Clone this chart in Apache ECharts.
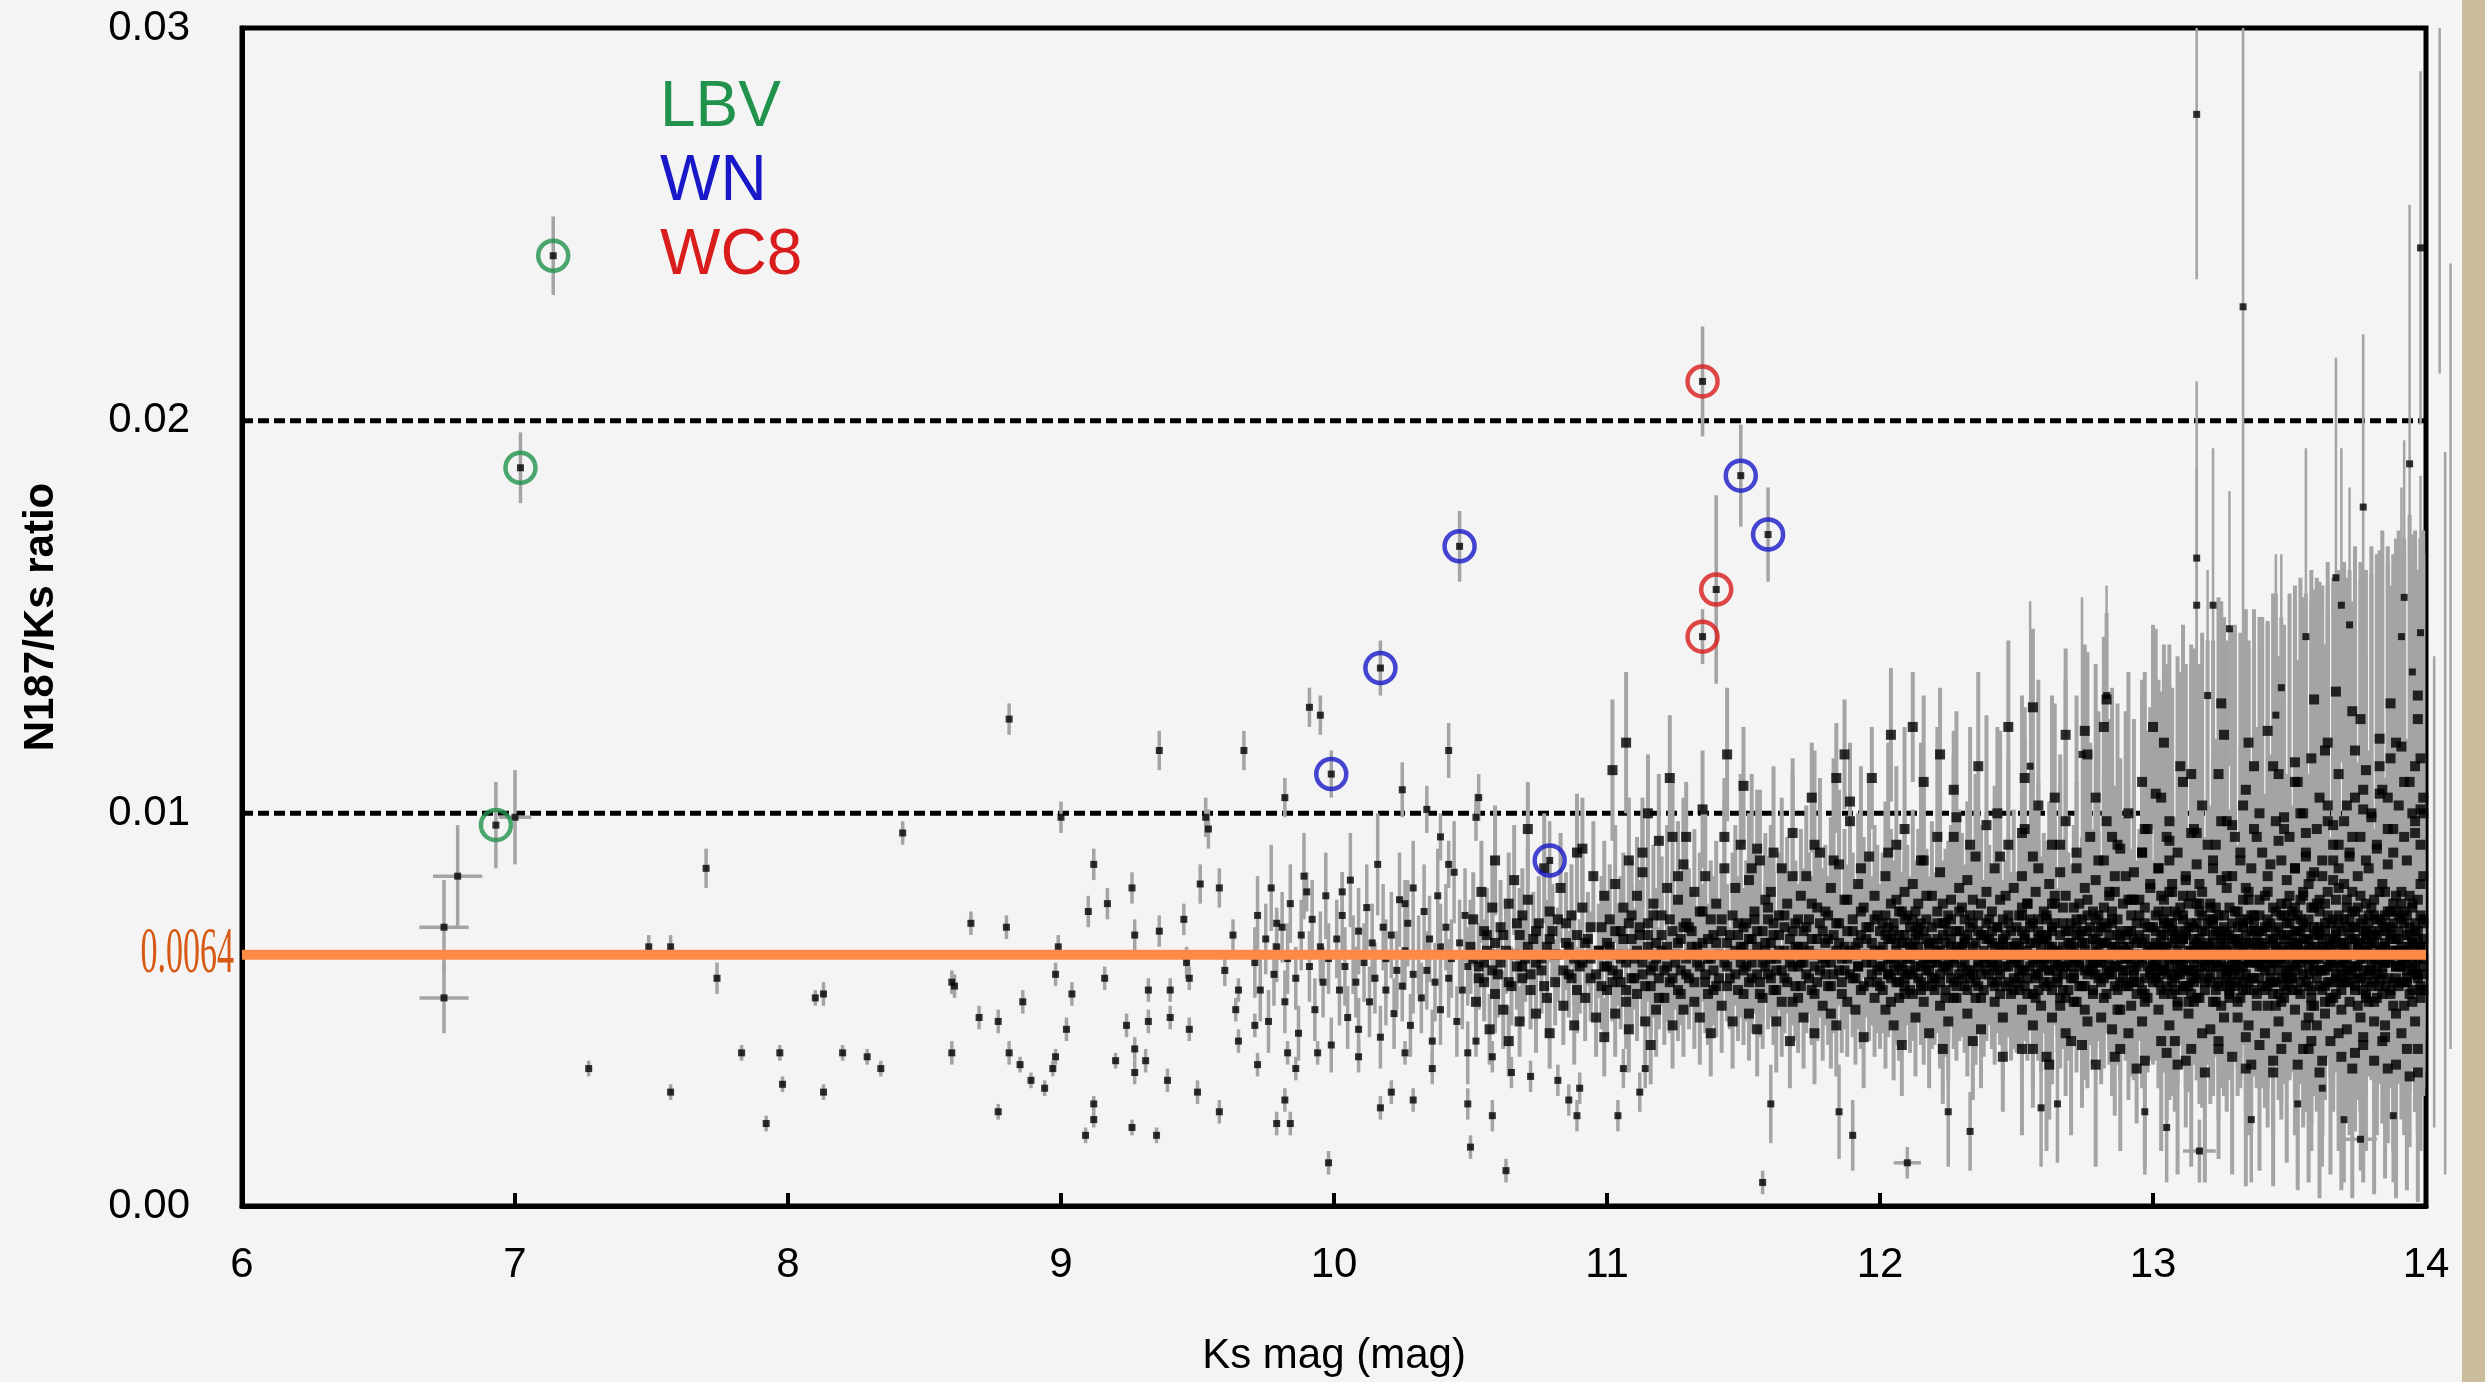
<!DOCTYPE html>
<html><head><meta charset="utf-8">
<script src="https://cdn.jsdelivr.net/npm/echarts@6/dist/echarts.min.js"></script>
<style>html,body{margin:0;padding:0;background:#f4f4f4;}#c{width:2485px;height:1382px;}</style>
</head><body><div id="c"></div>
<script>
// Units used in the arrays below: Ks magnitude x100, ratio and its error x1e4 (x-error x100)
const MAG = 0.01, RAT = 0.0001;
const xTickValues = [6, 7, 8, 9, 10, 11, 12, 13, 14];
const yTickValues = [0.00, 0.01, 0.02, 0.03];
const xName = 'Ks mag (mag)';
const yName = 'N187/Ks ratio';
const meanRatio = 0.0064;
const thresholds = [0.01, 0.02];
const legendNames = ['LBV', 'WN', 'WC8'];

// classified stars [mag, ratio, err]
const lbvStars = [714,242,10, 702,188,9, 693,97,11];
const wnStars  = [999,110,6, 1017,137,7, 1046,168,9, 1079,88,10, 1149,186,13, 1159,171,12];
const wc8Stars = [1135,210,14, 1140,157,24, 1135,145,7];

// bright stars with magnitude error bars [mag, ratio, err, magErr]
const crossStars = [679,84,13,9, 674,71,12,9, 674,53,9,9, 700,99,12,6, 1210,11,4,5, 1317,14,8,6, 1376,17,8,6];

// isolated stars (bright end)
const sparseUpper = [749,66,3, 757,66,3, 770,86,5, 842,95,3, 881,124,4, 867,72,3, 880,71,3, 900,99,4, 912,87,4, 910,75,4,
 917,77,4, 926,81,4, 936,116,5, 951,82,5, 958,81,5, 953,99,5, 954,96,5, 967,116,5, 982,104,5, 990,80,5, 991,127,5, 995,125,5,
 1003,80,5, 1025,106,7, 1026,77,6, 1034,101,6, 1039,94,6, 1042,87,6, 1042,116,7, 1053,104,6, 1052,99,6, 927,69,4, 936,70,4,
 945,73,4, 963,69,4, 979,72,4, 946,62,4];
const sparseLower = [727,35,2, 757,29,2, 774,58,4, 783,39,2, 792,21,2, 797,39,2, 798,31,2, 810,53,2, 813,54,3, 813,29,2, 820,39,2,
 829,38,2, 834,35,2, 860,57,3, 861,56,3, 860,39,3, 870,48,3, 877,47,3, 886,52,3, 881,39,3, 885,36,2, 889,32,2, 894,30,2, 877,24,2,
 897,35,2, 898,38,2, 898,59,3, 899,66,3, 904,54,3, 902,45,3, 916,58,3, 912,26,2, 912,22,2, 909,18,2, 920,37,2, 924,46,3, 927,40,3,
 927,34,3, 926,20,2, 931,37,3, 932,47,3, 932,55,3, 935,18,2, 939,32,3, 940,48,3, 940,55,3, 947,58,3, 947,45,3, 950,29,3, 958,24,3,
 960,60,4, 965,42,3, 965,55,3, 964,50,3, 971,46,3, 972,36,3, 982,27,3, 979,21,3, 984,21,3, 986,35,3, 983,39,3, 994,39,3, 998,11,3,
 1009,38,4, 1017,25,3, 1021,29,3, 1029,27,3, 1026,39,3, 1036,35,4, 1049,26,4, 1050,15,3, 1058,23,4, 1063,9,3, 1052,42,4, 1058,38,4,
 1065,34,4, 1072,33,4, 1082,32,4, 1089,23,4, 1086,27,4, 1090,30,4, 1104,23,4, 1112,29,5, 1106,35,5, 1114,35,5, 1157,6,3,
 1160,26,10, 1185,24,12, 1190,18,9, 1225,24,14, 1233,19,10, 1259,25,15, 1265,26,15, 1297,24,16, 1305,20,14, 1336,22,16,
 1353,26,18, 1362,30,20, 1370,22,16, 1388,23,17];

// upper fringe of the faint population
const fringe = [1071,96,12, 1091,91,13, 1102,111,18, 1107,118,18, 1113,90,14, 1115,100,15, 1123,109,16, 1124,94,14, 1126,84,14,
 1129,94,14, 1135,101,15, 1143,94,15, 1144,115,17, 1150,107,15, 1155,91,15, 1175,104,14, 1184,109,14, 1187,115,14, 1189,103,14,
 1197,109,13, 1204,120,17, 1212,122,14, 1222,115,17, 1227,106,15, 1247,122,22, 1253,109,18, 1256,127,20, 1268,120,22, 1275,121,22,
 1282,122,23, 1283,129,22, 1300,122,26, 1304,118,25, 1310,112,24, 1325,128,26, 1335,118,26, 1342,121,28, 1352,113,26, 1359,129,28,
 1363,116,27, 1367,131,30, 1373,126,28, 1378,111,28, 1383,119,30, 1387,128,30, 1391,117,29, 1397,130,32, 1397,124,30];
// faint stars with large ratio errors (upper grey envelope)
const upperBars = [1153,86,24, 1161,90,22, 1168,84,26, 1176,92,24, 1183,88,26, 1193,86,26,
 1203,90,28, 1209,96,26, 1215,88,30, 1221,94,28, 1228,99,27, 1233,92,30, 1239,97,28, 1244,89,32,
 1252,95,35, 1258,102,32, 1263,92,38, 1268,98,36, 1272,90,40, 1279,104,34, 1285,94,38, 1291,100,36, 1297,96,40,
 1301,105,42, 1306,98,45, 1311,108,40, 1314,95,48, 1318,102,44, 1324,110,45, 1329,97,50, 1334,106,46, 1339,100,50, 1344,112,44, 1348,96,52,
 1352,108,50, 1355,100,55, 1358,114,48, 1361,104,55, 1364,98,60, 1368,110,52, 1371,102,58, 1374,116,50, 1377,106,56, 1380,99,62,
 1383,112,55, 1386,104,60, 1389,118,52, 1392,108,58, 1395,100,64, 1398,114,56, 1399,104,62];
const upperBars2 = [1280,88,38, 1284,80,44, 1287,92,36, 1290,84,42, 1293,78,46, 1296,90,40, 1299,82,45,
 1302,86,48, 1305,94,44, 1307,80,52, 1309,90,50, 1312,84,54, 1315,96,46, 1317,82,56, 1320,92,52, 1322,86,58, 1325,98,50,
 1327,84,60, 1330,94,54, 1332,88,58, 1335,80,62, 1337,96,56, 1340,90,60, 1342,84,64, 1345,98,58, 1347,88,62,
 1350,94,62, 1352,86,68, 1354,100,60, 1356,90,66, 1358,84,70, 1360,96,64, 1362,88,70, 1364,102,62, 1366,92,68, 1368,86,72,
 1370,98,66, 1372,90,72, 1374,104,64, 1376,94,70, 1378,88,74, 1380,100,68, 1382,92,74, 1384,106,66, 1386,96,72, 1388,90,76,
 1390,102,70, 1392,94,76, 1394,108,68, 1396,98,74, 1398,92,78, 1399,100,72];
// faint stars below the band (lower grey envelope)
const lowerBars = [1252,40,22, 1261,38,24, 1270,42,24, 1279,36,26, 1288,40,26, 1297,37,27,
 1303,42,28, 1309,36,28, 1314,40,30, 1319,34,28, 1324,42,30, 1329,38,30, 1334,35,30, 1339,41,32, 1344,37,32, 1349,43,32,
 1353,36,32, 1357,40,34, 1361,34,32, 1365,42,34, 1369,38,34, 1373,35,33, 1377,41,35, 1381,37,34, 1385,43,36, 1389,36,34,
 1393,40,36, 1397,34,33];

// faint stars with very long error bars
const spikes = [1316,278,42, 1316,165,45, 1316,153,35, 1333,229,100, 1322,153,40, 1328,147,35, 1356,145,48, 1367,160,56,
 1369,153,40, 1372,148,35, 1377,178,44, 1392,155,40, 1391,145,38, 1394,189,66, 1398,244,45, 1398,146,40, 1395,136,35,
 1347,132,34, 1320,130,32, 1283,130,28, 1255,112,42, 1274,115,40, 1345,125,41];
// error bars of stars just beyond Ks = 14
const offEdge = [1405,256,44, 1409,140,100, 1407,100,92, 1403,80,60];

// dense faint population, per magnitude range [mag, ratio, err]
const cloudA = [971,62,9, 972,74,10, 973,55,8, 975,68,9, 976,47,8, 977,81,11, 978,59,8, 979,66,9,
 981,71,9, 982,52,8, 983,63,9, 984,77,10, 986,58,8, 987,44,7, 988,69,9, 989,84,11,
 991,61,9, 992,73,10, 993,50,8, 995,66,9, 996,57,9, 997,79,11, 998,63,9, 999,41,7];
const cloudB = [1001,68,10, 1002,55,9, 1003,74,11, 1004,61,10, 1005,48,8, 1006,83,12, 1007,64,10, 1008,57,9, 1009,70,11, 1009,45,8,
 1011,62,10, 1012,76,11, 1013,52,9, 1014,67,10, 1015,58,9, 1016,87,13, 1017,43,8, 1018,71,11, 1019,63,10, 1019,55,9,
 1021,69,11, 1022,49,9, 1023,60,10, 1024,78,12, 1025,56,9, 1026,65,10, 1027,72,11, 1028,46,8, 1029,81,12, 1029,59,10,
 1031,64,10, 1032,53,9, 1033,75,12, 1034,60,10, 1035,68,11, 1036,42,8, 1037,57,10, 1038,79,12, 1039,66,11, 1039,50,9,
 1041,71,11, 1042,58,10, 1043,63,10, 1044,85,13, 1045,47,9, 1046,67,11, 1047,55,10, 1048,74,12, 1049,61,10, 1049,39,8];
const cloudC = [1050,66,12, 1051,73,12, 1052,52,10, 1053,61,11, 1054,80,13, 1055,57,10, 1056,69,12, 1057,45,9, 1058,64,11, 1058,76,13, 1059,54,10, 1059,88,14, 1055,62,11,
 1060,59,11, 1061,71,12, 1062,50,10, 1063,65,11, 1064,77,13, 1065,56,10, 1066,83,14, 1067,61,11, 1068,47,9, 1068,69,12, 1069,74,12, 1069,58,11, 1064,42,9,
 1070,63,11, 1071,78,13, 1072,55,10, 1073,68,12, 1074,49,10, 1075,72,12, 1076,60,11, 1077,86,14, 1078,53,10, 1078,66,12, 1079,44,9, 1079,75,13, 1074,62,11,
 1080,70,12, 1081,57,11, 1082,64,12, 1083,81,14, 1084,51,10, 1085,67,12, 1086,59,11, 1087,74,13, 1088,46,10, 1088,63,12, 1089,90,15, 1089,55,11, 1085,72,13,
 1090,61,12, 1091,76,13, 1092,53,11, 1093,68,12, 1094,58,11, 1095,84,14, 1096,48,10, 1097,65,12, 1098,71,13, 1098,56,11, 1099,79,14, 1099,43,10, 1094,63,12];
const cloudD = [1100,67,13, 1100,55,12, 1101,73,14, 1102,60,13, 1103,82,15, 1103,49,11, 1104,64,13, 1105,70,14, 1105,57,12, 1106,76,14, 1107,52,12, 1107,62,13, 1108,88,16, 1108,45,11, 1109,68,14, 1109,58,12, 1109,74,14,
 1110,63,13, 1111,79,15, 1111,54,12, 1112,69,14, 1113,59,13, 1113,85,16, 1114,47,11, 1115,66,14, 1115,72,14, 1116,56,12, 1117,61,13, 1117,77,15, 1118,50,12, 1118,67,14, 1119,93,17, 1119,58,13, 1116,41,10,
 1120,65,14, 1120,74,15, 1121,53,12, 1122,61,14, 1122,81,16, 1123,57,13, 1124,70,15, 1124,46,11, 1125,64,14, 1126,78,15, 1126,55,13, 1127,68,15, 1127,60,14, 1128,87,17, 1128,50,12, 1129,72,15, 1129,63,14,
 1130,58,13, 1130,71,15, 1131,66,14, 1132,52,12, 1132,80,16, 1133,62,14, 1134,75,15, 1134,48,12, 1135,67,15, 1136,57,13, 1136,84,17, 1137,63,14, 1137,54,13, 1138,73,15, 1138,44,11, 1139,69,15, 1139,60,14,
 1140,77,16, 1140,56,13, 1141,64,14, 1142,70,15, 1142,51,12, 1143,86,17, 1144,61,14, 1144,67,15, 1145,58,13, 1146,74,16, 1146,47,12, 1147,65,14, 1147,81,16, 1148,55,13, 1148,69,15, 1149,62,14, 1149,92,18];
const cloudE = [1150,66,15, 1150,54,13, 1151,72,16, 1151,61,14, 1152,83,17, 1152,49,12, 1153,68,15, 1153,58,14, 1154,75,16, 1154,64,15, 1155,45,12, 1155,70,16, 1156,57,14, 1156,88,18, 1157,62,15, 1157,53,13, 1158,78,17, 1158,67,15, 1159,59,14, 1159,73,16,
 1160,63,15, 1160,80,17, 1161,55,14, 1161,69,16, 1162,60,15, 1162,47,13, 1163,74,16, 1163,65,15, 1164,52,14, 1164,86,18, 1165,71,16, 1165,58,14, 1166,64,15, 1166,77,17, 1167,42,12, 1167,68,16, 1168,61,15, 1168,95,19, 1169,56,14, 1169,72,16,
 1170,66,16, 1170,53,14, 1171,79,17, 1171,62,15, 1172,70,16, 1172,48,13, 1173,59,15, 1173,84,18, 1174,65,16, 1174,73,17, 1175,55,14, 1175,68,16, 1176,61,15, 1176,44,13, 1177,76,17, 1177,57,15, 1178,90,19, 1178,64,16, 1179,51,14, 1179,70,16,
 1180,62,16, 1180,75,17, 1181,56,15, 1181,68,16, 1182,49,14, 1182,81,18, 1183,64,16, 1183,59,15, 1184,72,17, 1184,46,13, 1185,67,16, 1185,87,19, 1186,54,15, 1186,63,16, 1187,78,18, 1187,60,15, 1188,70,17, 1188,52,14, 1189,65,16, 1189,98,20,
 1190,58,15, 1190,73,17, 1191,66,16, 1191,50,14, 1192,82,18, 1192,61,16, 1193,69,17, 1193,55,15, 1194,76,18, 1194,43,13, 1195,64,16, 1195,71,17, 1196,57,15, 1196,89,19, 1197,62,16, 1197,67,17, 1198,53,15, 1198,79,18, 1199,60,16, 1199,74,18];
const cloudF = [1200,65,17, 1200,56,16, 1201,72,18, 1201,61,17, 1202,84,19, 1202,50,15, 1203,68,18, 1203,59,16, 1204,77,19, 1204,63,17, 1205,46,14, 1205,70,18, 1206,57,16, 1206,92,20, 1207,64,17, 1207,53,16, 1207,75,18, 1208,60,17, 1208,67,18, 1208,41,13, 1209,80,19, 1209,58,16, 1209,69,18, 1205,62,17,
 1210,63,17, 1210,74,18, 1211,55,16, 1211,66,18, 1212,82,19, 1212,59,17, 1213,70,18, 1213,48,15, 1214,64,17, 1214,77,19, 1215,57,16, 1215,61,17, 1216,88,20, 1216,52,16, 1217,68,18, 1217,73,18, 1217,60,17, 1218,44,14, 1218,66,18, 1219,79,19, 1219,56,16, 1219,62,17, 1214,71,18, 1216,108,22,
 1220,67,18, 1220,58,17, 1221,75,19, 1221,62,18, 1222,51,16, 1222,85,20, 1223,64,18, 1223,69,19, 1224,55,17, 1224,72,19, 1225,60,18, 1225,47,15, 1226,78,19, 1226,66,18, 1227,57,17, 1227,94,21, 1227,63,18, 1228,70,19, 1228,53,16, 1229,81,20, 1229,59,17, 1229,65,18, 1225,74,19, 1223,40,14,
 1230,61,18, 1230,76,19, 1231,56,17, 1231,68,19, 1232,49,16, 1232,83,20, 1233,64,18, 1233,58,17, 1234,72,19, 1234,66,18, 1235,53,17, 1235,89,21, 1236,62,18, 1236,70,19, 1237,45,15, 1237,77,20, 1237,59,17, 1238,65,18, 1238,55,17, 1239,80,20, 1239,68,19, 1239,60,18, 1234,42,15, 1236,112,24,
 1240,64,18, 1240,73,19, 1241,57,17, 1241,67,19, 1242,86,21, 1242,52,16, 1243,62,18, 1243,71,19, 1244,59,18, 1244,78,20, 1245,48,16, 1245,65,18, 1246,69,19, 1246,56,17, 1247,92,22, 1247,61,18, 1247,74,20, 1248,54,17, 1248,66,19, 1249,81,20, 1249,58,18, 1249,63,18, 1245,38,14, 1243,100,22];
const cloudG = [1250,66,19, 1250,57,18, 1251,74,20, 1251,62,19, 1252,50,17, 1252,84,21, 1253,68,19, 1253,60,18, 1254,77,20, 1254,54,17, 1255,64,19, 1255,71,20, 1256,46,16, 1256,89,22, 1257,59,18, 1257,67,19, 1257,80,21, 1258,55,18, 1258,63,19, 1258,73,20, 1259,51,17, 1259,69,20, 1259,61,19, 1253,96,23, 1256,40,15, 1251,58,18, 1258,86,22,
 1260,63,19, 1260,75,20, 1261,56,18, 1261,68,20, 1262,82,21, 1262,60,19, 1263,70,20, 1263,48,17, 1264,65,19, 1264,77,21, 1265,57,18, 1265,62,19, 1266,92,23, 1266,53,18, 1267,72,20, 1267,66,20, 1267,59,19, 1268,44,16, 1268,79,21, 1269,64,19, 1269,70,20, 1269,55,18, 1264,104,24, 1262,36,14, 1266,85,22, 1268,61,19, 1261,73,20,
 1270,67,20, 1270,58,19, 1271,76,21, 1271,63,20, 1272,52,18, 1272,86,22, 1273,69,20, 1273,61,19, 1274,73,21, 1274,56,19, 1275,65,20, 1275,81,22, 1276,47,17, 1276,70,21, 1277,60,19, 1277,94,24, 1277,64,20, 1278,54,18, 1278,75,21, 1279,68,20, 1279,59,19, 1279,83,22, 1274,41,16, 1276,115,26, 1278,62,20, 1272,71,21, 1275,50,18,
 1280,62,20, 1280,74,21, 1281,57,19, 1281,67,20, 1282,88,23, 1282,53,18, 1283,64,20, 1283,71,21, 1284,59,19, 1284,79,22, 1285,45,17, 1285,66,20, 1286,61,20, 1286,84,23, 1287,55,19, 1287,69,21, 1287,73,21, 1288,50,18, 1288,63,20, 1289,77,22, 1289,58,19, 1289,66,20, 1283,98,24, 1286,38,15, 1288,91,23, 1281,48,17, 1285,72,21,
 1290,65,20, 1290,56,19, 1291,78,22, 1291,63,20, 1292,51,18, 1292,70,21, 1293,60,20, 1293,85,23, 1294,67,21, 1294,54,19, 1295,74,22, 1295,62,20, 1296,47,17, 1296,90,24, 1297,58,19, 1297,68,21, 1297,76,22, 1298,53,19, 1298,64,20, 1299,81,23, 1299,60,20, 1299,71,21, 1294,35,14, 1296,108,26, 1291,44,17, 1298,96,25, 1293,57,19];
const cloudH = [1300,66,22, 1300,57,21, 1301,74,23, 1301,62,22, 1302,50,20, 1302,86,25, 1303,69,23, 1303,60,22, 1304,78,24, 1304,54,20, 1305,64,22, 1305,71,23, 1306,46,19, 1306,93,26, 1307,59,21, 1307,67,23, 1307,82,25, 1308,55,21, 1308,63,22, 1308,75,24, 1309,51,20, 1309,70,23, 1309,61,22, 1303,104,27, 1305,39,17, 1301,58,21, 1306,88,25, 1308,42,18, 1302,66,23, 1304,72,24,
 1310,63,22, 1310,76,24, 1311,56,21, 1311,68,23, 1312,83,25, 1312,60,22, 1313,71,24, 1313,49,20, 1314,65,23, 1314,79,25, 1315,57,21, 1315,62,22, 1316,95,27, 1316,53,21, 1316,72,24, 1317,66,23, 1317,59,22, 1318,44,19, 1318,80,25, 1318,64,23, 1319,70,24, 1319,55,21, 1314,110,28, 1312,37,17, 1316,87,26, 1319,61,22, 1311,74,24, 1313,52,21, 1317,77,25, 1315,68,23,
 1320,67,23, 1320,58,22, 1321,77,25, 1321,63,23, 1322,52,21, 1322,88,26, 1323,70,24, 1323,61,23, 1324,74,25, 1324,56,22, 1325,66,24, 1325,83,26, 1326,48,20, 1326,71,24, 1327,60,23, 1327,98,28, 1327,65,24, 1328,54,22, 1328,76,25, 1328,69,24, 1329,59,23, 1329,84,26, 1324,40,18, 1326,120,30, 1329,63,23, 1322,72,25, 1325,51,21, 1321,45,19, 1323,92,27, 1328,57,22,
 1330,62,23, 1330,75,25, 1331,57,22, 1331,68,24, 1332,90,27, 1332,53,21, 1333,65,24, 1333,72,25, 1334,59,23, 1334,81,26, 1335,46,20, 1335,67,24, 1336,62,23, 1336,86,27, 1337,55,22, 1337,70,25, 1337,74,25, 1338,51,21, 1338,64,24, 1339,78,26, 1339,58,23, 1339,67,24, 1333,102,29, 1336,36,17, 1338,94,28, 1331,48,20, 1335,73,25, 1332,61,23, 1334,43,19, 1337,112,30,
 1340,65,24, 1340,56,22, 1341,79,26, 1341,63,24, 1342,51,21, 1342,71,25, 1343,60,23, 1343,87,28, 1344,68,25, 1344,54,22, 1345,75,26, 1345,62,24, 1346,47,20, 1346,93,29, 1347,58,23, 1347,69,25, 1347,77,26, 1348,53,22, 1348,65,24, 1349,83,27, 1349,60,23, 1349,72,25, 1344,34,16, 1346,110,30, 1341,44,19, 1348,99,29, 1343,57,23, 1345,66,24, 1347,40,18, 1349,55,22];
const cloudI = [1350,66,25, 1350,57,24, 1351,75,27, 1351,62,25, 1352,50,23, 1352,86,29, 1353,70,26, 1353,60,25, 1354,78,27, 1354,54,23, 1355,65,26, 1355,72,26, 1356,46,22, 1356,95,30, 1357,59,24, 1357,68,26, 1357,82,28, 1358,55,24, 1358,63,25, 1358,76,27, 1359,51,23, 1359,71,26, 1359,61,25, 1353,108,31, 1355,40,20, 1351,58,24, 1356,89,29, 1358,42,21, 1352,67,26, 1354,73,27, 1357,48,22, 1359,85,28, 1350,79,27, 1356,64,25,
 1360,63,25, 1360,77,27, 1361,56,24, 1361,69,26, 1362,84,29, 1362,60,25, 1363,72,27, 1363,49,22, 1364,66,26, 1364,80,28, 1365,57,24, 1365,62,25, 1366,97,31, 1366,53,23, 1366,73,27, 1367,67,26, 1367,59,25, 1368,44,21, 1368,81,28, 1368,65,26, 1369,70,27, 1369,55,24, 1364,118,33, 1362,37,19, 1366,88,29, 1369,61,25, 1361,75,27, 1363,52,23, 1367,78,28, 1365,68,26, 1360,46,22, 1368,92,30, 1362,64,26, 1369,50,23,
 1370,67,26, 1370,58,25, 1371,78,28, 1371,63,26, 1372,52,24, 1372,89,30, 1373,71,27, 1373,61,26, 1374,75,28, 1374,56,25, 1375,66,27, 1375,84,29, 1376,48,23, 1376,72,28, 1377,60,26, 1377,101,32, 1377,65,27, 1378,54,25, 1378,77,28, 1378,69,27, 1379,59,26, 1379,86,30, 1374,39,20, 1376,124,35, 1379,64,27, 1372,73,28, 1375,51,24, 1371,45,22, 1373,94,31, 1378,57,25, 1370,82,29, 1374,68,27, 1377,43,21, 1379,74,28,
 1380,62,26, 1380,76,28, 1381,57,25, 1381,69,27, 1382,91,31, 1382,53,24, 1383,65,27, 1383,73,28, 1384,59,26, 1384,82,30, 1385,46,23, 1385,67,27, 1386,62,26, 1386,87,30, 1387,55,25, 1387,71,28, 1387,75,28, 1388,51,24, 1388,64,27, 1389,79,29, 1389,58,26, 1389,68,27, 1383,105,33, 1386,35,19, 1388,96,31, 1381,47,23, 1385,74,28, 1382,61,26, 1384,42,21, 1387,114,34, 1380,70,28, 1383,56,25, 1389,49,24, 1385,80,29,
 1390,65,27, 1390,56,25, 1391,80,30, 1391,63,27, 1392,51,24, 1392,72,29, 1393,60,26, 1393,88,31, 1394,69,28, 1394,54,25, 1395,76,29, 1395,62,27, 1396,47,23, 1396,95,32, 1397,58,26, 1397,70,28, 1397,78,29, 1398,53,25, 1398,66,27, 1399,84,30, 1399,61,27, 1399,73,28, 1394,33,18, 1396,112,35, 1391,44,22, 1398,101,33, 1393,57,26, 1395,67,28, 1397,40,21, 1399,55,25, 1390,74,29, 1392,64,27, 1396,59,26, 1398,82,30];

// core stars whose error bars fall inside the grey band [mag, ratio]
const core105to115 = [1051,63, 1053,58, 1055,70, 1056,65, 1058,60, 1059,67, 1061,62, 1062,69, 1064,57, 1066,64, 1067,72, 1069,61,
 1071,66, 1072,59, 1074,70, 1076,63, 1077,56, 1079,68, 1081,64, 1082,73, 1084,60, 1086,66, 1087,58, 1089,69, 1091,62, 1092,67,
 1094,71, 1096,59, 1097,65, 1099,61,
 1100,61, 1101,66, 1102,57, 1103,70, 1104,59, 1105,63, 1106,68, 1107,55, 1108,72, 1109,64, 1110,58, 1111,65, 1112,71, 1113,62,
 1114,56, 1115,69, 1116,60, 1117,74, 1118,63, 1119,53, 1120,69, 1121,60, 1122,66, 1123,73, 1124,58, 1125,62, 1126,67, 1127,54,
 1128,71, 1129,59, 1130,64, 1131,70, 1132,57, 1133,66, 1134,61, 1135,75, 1136,59, 1137,68, 1138,63, 1139,55, 1140,67, 1141,58,
 1142,73, 1143,62, 1144,56, 1145,69, 1146,64, 1147,59, 1148,72, 1149,66];
const core115to125 = [1150,60, 1150,71, 1151,64, 1152,57, 1152,68, 1153,62, 1154,73, 1155,59, 1155,66, 1156,54, 1157,70, 1158,61, 1158,65, 1159,76,
 1160,58, 1160,67, 1161,72, 1162,63, 1162,55, 1163,69, 1164,60, 1165,65, 1165,74, 1166,57, 1167,62, 1168,70, 1168,52, 1169,66,
 1170,61, 1170,73, 1171,56, 1172,66, 1172,62, 1173,71, 1174,58, 1175,64, 1175,77, 1176,54, 1177,68, 1178,60, 1178,72, 1179,63,
 1180,67, 1180,59, 1181,74, 1182,62, 1182,56, 1183,69, 1184,65, 1185,60, 1185,72, 1186,57, 1187,66, 1188,63, 1188,78, 1189,59,
 1190,64, 1190,70, 1191,58, 1192,67, 1192,61, 1193,75, 1194,56, 1195,68, 1195,62, 1196,71, 1197,59, 1198,65, 1198,73, 1199,57,
 1200,61, 1200,70, 1201,55, 1201,66, 1202,74, 1203,59, 1203,63, 1204,68, 1204,52, 1205,72, 1205,60, 1206,65, 1206,78, 1207,57, 1207,69, 1208,62, 1209,73, 1209,56,
 1210,67, 1210,59, 1211,71, 1211,63, 1212,54, 1212,66, 1213,75, 1213,61, 1214,58, 1214,69, 1215,64, 1215,72, 1216,56, 1216,62, 1217,79, 1218,60, 1218,67, 1219,71,
 1220,63, 1220,55, 1221,68, 1221,72, 1222,59, 1222,65, 1223,61, 1223,77, 1224,53, 1224,67, 1225,70, 1225,64, 1226,58, 1226,73, 1227,62, 1228,66, 1228,56, 1229,75,
 1230,66, 1230,58, 1231,73, 1231,62, 1232,69, 1232,55, 1233,60, 1233,71, 1234,64, 1234,78, 1235,57, 1235,67, 1236,61, 1236,74, 1237,53, 1238,69, 1238,63, 1239,72,
 1240,59, 1240,68, 1241,62, 1241,75, 1242,56, 1242,66, 1243,71, 1243,60, 1244,64, 1244,54, 1245,73, 1245,67, 1246,61, 1246,79, 1247,57, 1248,70, 1248,63, 1249,66];
const core125to135 = [1250,62, 1250,71, 1251,66, 1251,55, 1252,74, 1252,60, 1253,64, 1253,69, 1254,58, 1254,77, 1255,61, 1255,67, 1256,72, 1256,54, 1257,63, 1258,70, 1258,59, 1259,66,
 1260,68, 1260,57, 1261,63, 1261,74, 1262,60, 1262,66, 1263,55, 1263,71, 1264,62, 1264,79, 1265,65, 1265,58, 1266,69, 1266,61, 1267,76, 1268,64, 1268,53, 1269,67,
 1270,61, 1270,72, 1271,58, 1271,66, 1272,69, 1272,63, 1273,77, 1273,56, 1274,64, 1274,70, 1275,60, 1275,67, 1276,74, 1276,59, 1277,62, 1278,68, 1278,55, 1279,73,
 1280,65, 1280,58, 1281,71, 1281,62, 1282,67, 1282,76, 1283,60, 1283,54, 1284,69, 1284,63, 1285,73, 1285,59, 1286,66, 1286,80, 1287,61, 1288,70, 1288,57, 1289,64,
 1290,60, 1290,69, 1291,66, 1291,56, 1292,74, 1292,62, 1293,68, 1293,59, 1294,72, 1294,64, 1295,57, 1295,78, 1296,63, 1296,67, 1297,54, 1298,71, 1298,61, 1299,65,
 1300,62, 1300,71, 1301,58, 1301,67, 1302,75, 1302,60, 1303,64, 1303,55, 1304,69, 1304,73, 1305,59, 1305,66, 1306,80, 1306,61, 1307,57, 1307,70, 1308,63, 1308,68, 1309,52, 1309,74, 1302,65, 1304,62, 1306,72, 1308,58,
 1310,67, 1310,59, 1311,73, 1311,62, 1312,56, 1312,69, 1313,65, 1313,77, 1314,60, 1314,54, 1315,71, 1315,66, 1316,63, 1316,58, 1317,75, 1317,68, 1318,61, 1318,70, 1319,57, 1319,64, 1311,79, 1313,60, 1315,52, 1318,66,
 1320,63, 1320,72, 1321,57, 1321,66, 1322,69, 1322,61, 1323,76, 1323,55, 1324,65, 1324,70, 1325,59, 1325,62, 1326,74, 1326,67, 1327,58, 1327,81, 1328,64, 1328,53, 1329,68, 1329,61, 1321,73, 1323,64, 1325,69, 1327,56,
 1330,68, 1330,56, 1331,63, 1331,75, 1332,59, 1332,66, 1333,71, 1333,61, 1334,55, 1334,67, 1335,78, 1335,62, 1336,65, 1336,58, 1337,72, 1337,64, 1338,69, 1338,54, 1339,61, 1339,74, 1331,67, 1333,57, 1336,70, 1338,62,
 1340,61, 1340,70, 1341,66, 1341,55, 1342,73, 1342,63, 1343,58, 1343,68, 1344,76, 1344,62, 1345,57, 1345,65, 1346,71, 1346,60, 1347,66, 1347,52, 1348,74, 1348,62, 1349,69, 1349,58, 1342,80, 1344,67, 1346,63, 1348,56];
const core135to140 = [1350,64, 1350,72, 1351,58, 1351,67, 1352,61, 1352,76, 1353,55, 1353,66, 1354,70, 1354,62, 1355,59, 1355,80, 1356,68, 1356,57, 1357,73, 1357,63, 1358,66, 1358,51, 1359,69, 1359,60, 1351,74, 1353,63, 1355,68, 1357,56,
 1360,66, 1360,58, 1361,71, 1361,63, 1362,55, 1362,68, 1363,77, 1363,60, 1364,64, 1364,57, 1365,72, 1365,66, 1366,61, 1366,83, 1367,54, 1367,69, 1368,62, 1368,74, 1369,59, 1369,67, 1361,65, 1363,70, 1365,52, 1368,57,
 1370,62, 1370,73, 1371,57, 1371,66, 1372,69, 1372,60, 1373,75, 1373,64, 1374,55, 1374,71, 1375,61, 1375,67, 1376,79, 1376,58, 1377,63, 1377,70, 1378,53, 1378,65, 1379,72, 1379,60, 1371,76, 1373,59, 1375,65, 1378,68,
 1380,67, 1380,56, 1381,63, 1381,74, 1382,59, 1382,69, 1383,65, 1383,80, 1384,61, 1384,54, 1385,71, 1385,66, 1386,58, 1386,75, 1387,63, 1387,68, 1388,57, 1388,72, 1389,61, 1389,65, 1381,52, 1383,70, 1385,62, 1388,77,
 1390,61, 1390,70, 1391,66, 1391,57, 1392,75, 1392,63, 1393,58, 1393,69, 1394,64, 1394,79, 1395,55, 1395,67, 1396,72, 1396,61, 1397,65, 1397,59, 1398,74, 1398,56, 1399,68, 1399,63, 1391,73, 1393,62, 1395,77, 1398,66];
const core120to130b = [1201,64, 1203,71, 1204,58, 1206,67, 1207,61, 1208,75, 1209,54, 1202,69, 1211,60, 1212,73, 1214,66, 1215,55, 1216,70, 1217,63, 1219,58, 1213,68,
 1221,65, 1222,57, 1223,72, 1225,62, 1226,68, 1227,53, 1229,70, 1224,61, 1231,67, 1232,60, 1233,74, 1235,64, 1236,56, 1237,69, 1239,62, 1234,59,
 1241,70, 1242,61, 1243,57, 1245,68, 1246,64, 1247,72, 1249,55, 1244,66,
 1250,67, 1251,60, 1252,70, 1253,56, 1254,65, 1255,73, 1256,62, 1257,58, 1258,68, 1259,64, 1252,76, 1257,53,
 1260,61, 1261,69, 1262,57, 1263,66, 1264,72, 1265,60, 1266,64, 1267,55, 1268,70, 1269,62, 1263,77, 1266,51,
 1270,65, 1271,59, 1272,73, 1273,62, 1274,67, 1275,56, 1276,64, 1277,71, 1278,60, 1279,66, 1271,52, 1276,78,
 1280,70, 1281,63, 1282,58, 1283,67, 1284,61, 1285,75, 1286,56, 1287,65, 1288,68, 1289,60, 1282,72, 1287,50,
 1290,63, 1291,70, 1292,57, 1293,64, 1294,61, 1295,69, 1296,55, 1297,72, 1298,66, 1299,59, 1292,78, 1297,52];
const core130to140b = [1300,64, 1301,70, 1302,57, 1303,67, 1304,60, 1305,75, 1306,63, 1307,54, 1308,69, 1309,65, 1301,61, 1303,79, 1305,56, 1307,72, 1309,59, 1304,66,
 1310,61, 1311,68, 1312,63, 1313,56, 1314,72, 1315,60, 1316,67, 1317,53, 1318,74, 1319,62, 1312,70, 1314,58, 1316,77, 1318,64, 1311,55, 1317,66,
 1320,65, 1321,59, 1322,73, 1323,62, 1324,57, 1325,68, 1326,61, 1327,70, 1328,55, 1329,66, 1321,76, 1323,52, 1325,64, 1327,60, 1329,72, 1322,67,
 1330,60, 1331,71, 1332,64, 1333,55, 1334,69, 1335,63, 1336,74, 1337,58, 1338,66, 1339,70, 1331,52, 1333,78, 1335,57, 1337,67, 1339,62, 1332,73,
 1340,67, 1341,60, 1342,56, 1343,72, 1344,64, 1345,70, 1346,54, 1347,63, 1348,68, 1349,77, 1341,71, 1343,62, 1345,51, 1347,74, 1349,59, 1344,57,
 1350,60, 1351,69, 1352,65, 1353,74, 1354,57, 1355,63, 1356,71, 1357,66, 1358,53, 1359,76, 1351,55, 1353,67, 1355,79, 1357,61, 1359,64, 1352,70,
 1360,70, 1361,60, 1362,66, 1363,56, 1364,74, 1365,62, 1366,68, 1367,58, 1368,72, 1369,64, 1361,78, 1363,65, 1365,53, 1367,70, 1369,57, 1364,61,
 1370,65, 1371,71, 1372,57, 1373,68, 1374,61, 1375,76, 1376,63, 1377,55, 1378,70, 1379,66, 1371,60, 1373,80, 1375,58, 1377,73, 1379,52, 1376,67,
 1380,60, 1381,67, 1382,73, 1383,58, 1384,66, 1385,62, 1386,70, 1387,54, 1388,65, 1389,75, 1381,78, 1383,63, 1385,56, 1387,69, 1389,61, 1384,72,
 1390,68, 1391,61, 1392,57, 1393,74, 1394,66, 1395,60, 1396,70, 1397,63, 1398,55, 1399,72, 1391,77, 1393,65, 1395,52, 1397,68, 1399,59, 1394,71];

// ---- build records [mag, ratio, err, magErr] ----
function toRecords(arr, stride) {
  const out = [];
  for (let i = 0; i < arr.length; i += stride) {
    out.push([+(arr[i] * MAG).toFixed(2), +(arr[i + 1] * RAT).toFixed(5),
      stride >= 3 ? +(arr[i + 2] * RAT).toFixed(5) : 0,
      stride > 3 ? +(arr[i + 3] * MAG).toFixed(2) : 0]);
  }
  return out;
}
function many(list, stride) { let out = []; list.forEach(a => { out = out.concat(toRecords(a, stride)); }); return out; }

const lbv = toRecords(lbvStars, 3), wn = toRecords(wnStars, 3), wc8 = toRecords(wc8Stars, 3);
const crosses = toRecords(crossStars, 4);
const brightRecs = many([sparseUpper, sparseLower, cloudA, cloudB], 3).concat(crosses, lbv, wn, wc8);
const denseRecs = many([cloudC, cloudD, cloudE, cloudF, cloudG, cloudH, cloudI, fringe, upperBars, upperBars2, lowerBars], 3);
const coreRecs = many([core105to115, core115to125, core125to135, core135to140, core120to130b, core130to140b], 2);
const longRecs = toRecords(spikes, 3);
const edgeRecs = toRecords(offEdge, 3);
const thinRecs = longRecs.concat(edgeRecs);
const xy = r => [r[0], r[1]];

const BAR = '#a4a4a4';
function barRenderer(width) {
  return function (params, api) {
    const cs = params.coordSys;
    const x = api.value(0), y = api.value(1), e = api.value(2), ex = api.value(3);
    const p1 = api.coord([x, y + e]), p2 = api.coord([x, y - e]);
    const top = Math.max(p1[1], cs.y), bot = Math.min(p2[1], cs.y + cs.height);
    const children = [{ type: 'line', shape: { x1: p1[0], y1: top, x2: p1[0], y2: bot }, style: { stroke: BAR, lineWidth: width } }];
    if (ex > 0) {
      const a = api.coord([x - ex, y]), b = api.coord([x + ex, y]);
      children.push({ type: 'line', shape: { x1: a[0], y1: a[1], x2: b[0], y2: b[1] }, style: { stroke: BAR, lineWidth: width } });
    }
    return { type: 'group', children };
  };
}
function bars(recs, width) {
  return { type: 'custom', z: 2, renderItem: barRenderer(width), encode: { x: 0, y: 1 }, data: recs, silent: true };
}
function ring(name, recs, color) {
  return { name, type: 'scatter', z: 6, symbol: 'circle', symbolSize: 30,
    itemStyle: { color: 'rgba(0,0,0,0)', borderColor: color, borderWidth: 4.5 },
    data: recs.map(xy) };
}
function dots(recs, size) {
  return { type: 'scatter', z: 4, symbol: 'rect', symbolSize: size, itemStyle: { color: '#000' }, data: recs.map(xy), silent: true };
}
function hLine(value, z, style) {
  return { type: 'line', z, silent: true, symbol: 'none', lineStyle: style,
    data: [[xTickValues[0], value], [xTickValues[xTickValues.length - 1], value]] };
}
const colors = { LBV: '#21924b', WN: '#1818c8', WC8: '#d91c1c' };
const FONT = "'Liberation Sans', Arial, sans-serif";

const chart = echarts.init(document.getElementById('c'), null, { renderer: 'canvas' });
chart.setOption({
  animation: false,
  backgroundColor: '#f4f4f4',
  grid: { left: 242, right: 59, top: 28, bottom: 176, show: true, borderColor: '#000', borderWidth: 5, backgroundColor: 'rgba(0,0,0,0)' },
  xAxis: {
    type: 'value', min: xTickValues[0], max: xTickValues[xTickValues.length - 1], interval: 1,
    name: xName, nameLocation: 'middle', nameGap: 129,
    nameTextStyle: { fontFamily: FONT, fontSize: 42, color: '#000' },
    axisLine: { lineStyle: { color: '#000', width: 5 } },
    axisTick: { inside: true, length: 13, lineStyle: { color: '#000', width: 4 } },
    axisLabel: { margin: 38, fontFamily: FONT, fontSize: 42, color: '#000' },
    splitLine: { show: false }
  },
  yAxis: {
    type: 'value', min: yTickValues[0], max: yTickValues[yTickValues.length - 1], interval: 0.01,
    name: yName, nameLocation: 'middle', nameGap: 180, nameRotate: 90,
    nameTextStyle: { fontFamily: FONT, fontSize: 42, fontWeight: 'bold', color: '#000' },
    axisLine: { lineStyle: { color: '#000', width: 5 } },
    axisTick: { show: false },
    axisLabel: { margin: 52, fontFamily: FONT, fontSize: 42, color: '#000', formatter: v => v.toFixed(2) },
    splitLine: { show: false }
  },
  series: thresholds.map(t => hLine(t, 1, { color: '#000', width: 5, type: [11, 5] })).concat([
    bars(brightRecs, 3.5),
    bars(denseRecs, 4),
    bars(thinRecs, 2.5),
    dots(brightRecs.concat(longRecs), 7),
    dots(denseRecs.concat(coreRecs), 10),
    ring('LBV', lbv, colors.LBV), ring('WN', wn, colors.WN), ring('WC8', wc8, colors.WC8),
    hLine(meanRatio, 8, { color: '#ff8a45', width: 10, type: 'solid' })
  ])
});

const yMean = chart.convertToPixel({ gridIndex: 0 }, [6, meanRatio])[1];
const legendTop = 108, legendStep = 74;
chart.setOption({
  graphic: [
    { id: 'edge', type: 'rect', z: 0, shape: { x: 2462, y: 0, width: 23, height: 1382 }, style: { fill: '#cbbd9c' } },
    { id: 'meanLabel', type: 'text', z: 100, x: 234, y: yMean, scaleY: 1.95,
      style: { text: meanRatio.toString(), font: "34px 'Liberation Serif', 'Times New Roman', serif", fill: '#d65a14',
        align: 'right', verticalAlign: 'middle', textAlign: 'right', textVerticalAlign: 'middle' } }
  ].concat(legendNames.map((n, i) => ({
    id: 'lg' + n, type: 'text', z: 100, x: 660, y: legendTop + i * legendStep,
    style: { text: n, font: '64px ' + FONT, fill: colors[n], align: 'left', verticalAlign: 'middle', textAlign: 'left', textVerticalAlign: 'middle' }
  })))
});
</script>
</body></html>
